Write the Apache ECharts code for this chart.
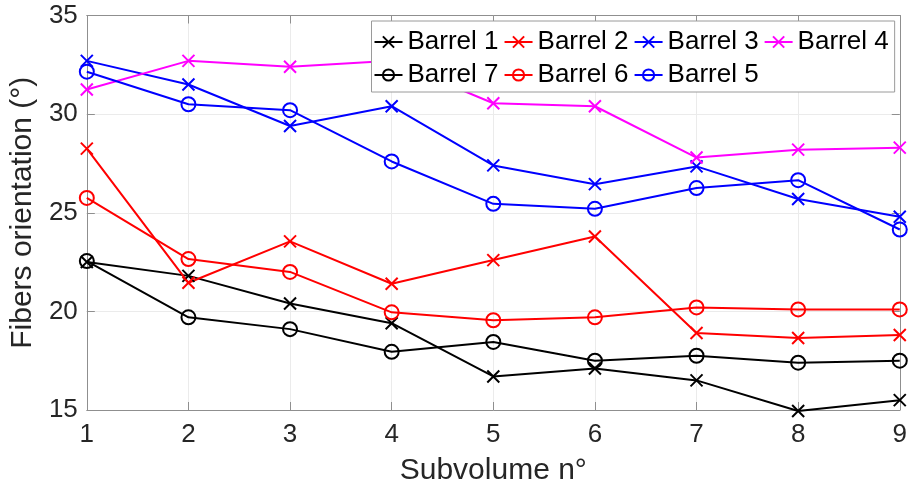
<!DOCTYPE html>
<html>
<head>
<meta charset="utf-8">
<script src="https://cdn.jsdelivr.net/npm/echarts@6/dist/echarts.min.js"></script>
<style>
  html, body { margin: 0; padding: 0; background: #fff; }
  #chart { width: 910px; height: 491px; }
</style>
</head>
<body>
<div id="chart"></div>
<script>
// Subvolume index along the x axis
const subvolumes = [1, 2, 3, 4, 5, 6, 7, 8, 9];

// Mean fibre orientation (degrees) per barrel and subvolume
const barrel1 = [22.5, 21.8, 20.4, 19.4, 16.7, 17.1, 16.5, 14.95, 15.5];
const barrel2 = [28.25, 21.45, 23.55, 21.4, 22.6, 23.8, 18.9, 18.65, 18.8];
const barrel3 = [32.7, 31.5, 29.4, 30.4, 27.4, 26.45, 27.35, 25.7, 24.8];
const barrel4 = [31.25, 32.7, 32.4, 32.7, 30.55, 30.4, 27.8, 28.2, 28.3];
const barrel7 = [22.55, 19.7, 19.1, 17.95, 18.45, 17.5, 17.75, 17.4, 17.5];
const barrel6 = [25.75, 22.65, 22.0, 19.95, 19.55, 19.7, 20.2, 20.1, 20.1];
const barrel5 = [32.15, 30.5, 30.2, 27.6, 25.45, 25.2, 26.25, 26.65, 24.15];

const yTicks = [15, 20, 25, 30, 35];

const FONT = 'Liberation Sans, Arial, Helvetica, sans-serif';
const TEXT = '#262626';
const AXIS = '#8f8f8f';
const CROSS = 'path://M0,0L10,10M10,0L0,10';

function makeSeries(name, values, color, marker) {
  const isCross = marker === 'x';
  return {
    name: name,
    type: 'line',
    data: subvolumes.map((x, i) => [x, values[i]]),
    symbol: isCross ? CROSS : 'circle',
    symbolSize: isCross ? 12 : 14,
    clip: false,
    lineStyle: { color: color, width: 2 },
    itemStyle: {
      color: isCross ? color : 'rgba(0,0,0,0)',
      borderColor: color,
      borderWidth: 2
    },
    emphasis: { disabled: true }
  };
}

const series = [
  makeSeries('Barrel 1', barrel1, '#000000', 'x'),
  makeSeries('Barrel 2', barrel2, '#ff0000', 'x'),
  makeSeries('Barrel 3', barrel3, '#0000ff', 'x'),
  makeSeries('Barrel 4', barrel4, '#ff00ff', 'x'),
  makeSeries('Barrel 7', barrel7, '#000000', 'o'),
  makeSeries('Barrel 6', barrel6, '#ff0000', 'o'),
  makeSeries('Barrel 5', barrel5, '#0000ff', 'o')
];

const chart = echarts.init(document.getElementById('chart'), null, { renderer: 'canvas' });

const hiddenAxisCommon = {
  axisLine: { show: true, lineStyle: { color: AXIS, width: 1 } },
  axisTick: { show: true, inside: true, length: 8, lineStyle: { color: AXIS } },
  axisLabel: { show: false },
  splitLine: { show: false }
};

chart.setOption({
  animation: false,
  backgroundColor: '#ffffff',
  textStyle: { fontFamily: FONT },
  grid: { left: 83, right: 9.5, top: 15.5, bottom: 80 },
  legend: {
    data: series.map(s => s.name),
    left: 371.5,
    top: 21,
    width: 545,
    orient: 'horizontal',
    padding: [7, 6, 3, 2],
    itemGap: 5,
    itemWidth: 28,
    itemHeight: 14,
    backgroundColor: '#ffffff',
    borderColor: '#9a9a9a',
    borderWidth: 1,
    borderRadius: 0,
    selectedMode: false,
    lineStyle: { width: 2 },
    itemStyle: { borderWidth: 2 },
    textStyle: { fontFamily: FONT, fontSize: 26, color: '#000000', lineHeight: 28 }
  },
  xAxis: [
    {
      type: 'value',
      min: 1, max: 9, interval: 1,
      name: 'Subvolume n°',
      nameLocation: 'middle',
      nameGap: 46,
      nameTextStyle: { fontFamily: FONT, fontSize: 30, color: TEXT },
      axisLine: { show: true, onZero: false, lineStyle: { color: AXIS, width: 1 } },
      axisTick: { show: true, inside: true, length: 8, lineStyle: { color: AXIS } },
      axisLabel: { fontFamily: FONT, fontSize: 26, color: TEXT, margin: 12 },
      splitLine: { show: true, lineStyle: { color: '#ebebeb', width: 1 } }
    },
    Object.assign({ type: 'value', min: 1, max: 9, interval: 1, position: 'top' }, hiddenAxisCommon)
  ],
  yAxis: [
    {
      type: 'value',
      min: yTicks[0], max: yTicks[yTicks.length - 1], interval: 5,
      name: 'Fibers orientation (°)',
      nameLocation: 'middle',
      nameGap: 48,
      nameTextStyle: { fontFamily: FONT, fontSize: 30, color: TEXT },
      axisLine: { show: true, onZero: false, lineStyle: { color: AXIS, width: 1 } },
      axisTick: { show: true, inside: true, length: 8, lineStyle: { color: AXIS } },
      axisLabel: { fontFamily: FONT, fontSize: 26, color: TEXT, margin: 9 },
      splitLine: { show: true, lineStyle: { color: '#ebebeb', width: 1 } }
    },
    Object.assign({ type: 'value', min: 15, max: 35, interval: 5, position: 'right' }, hiddenAxisCommon)
  ],
  series: series
});
</script>
</body>
</html>
